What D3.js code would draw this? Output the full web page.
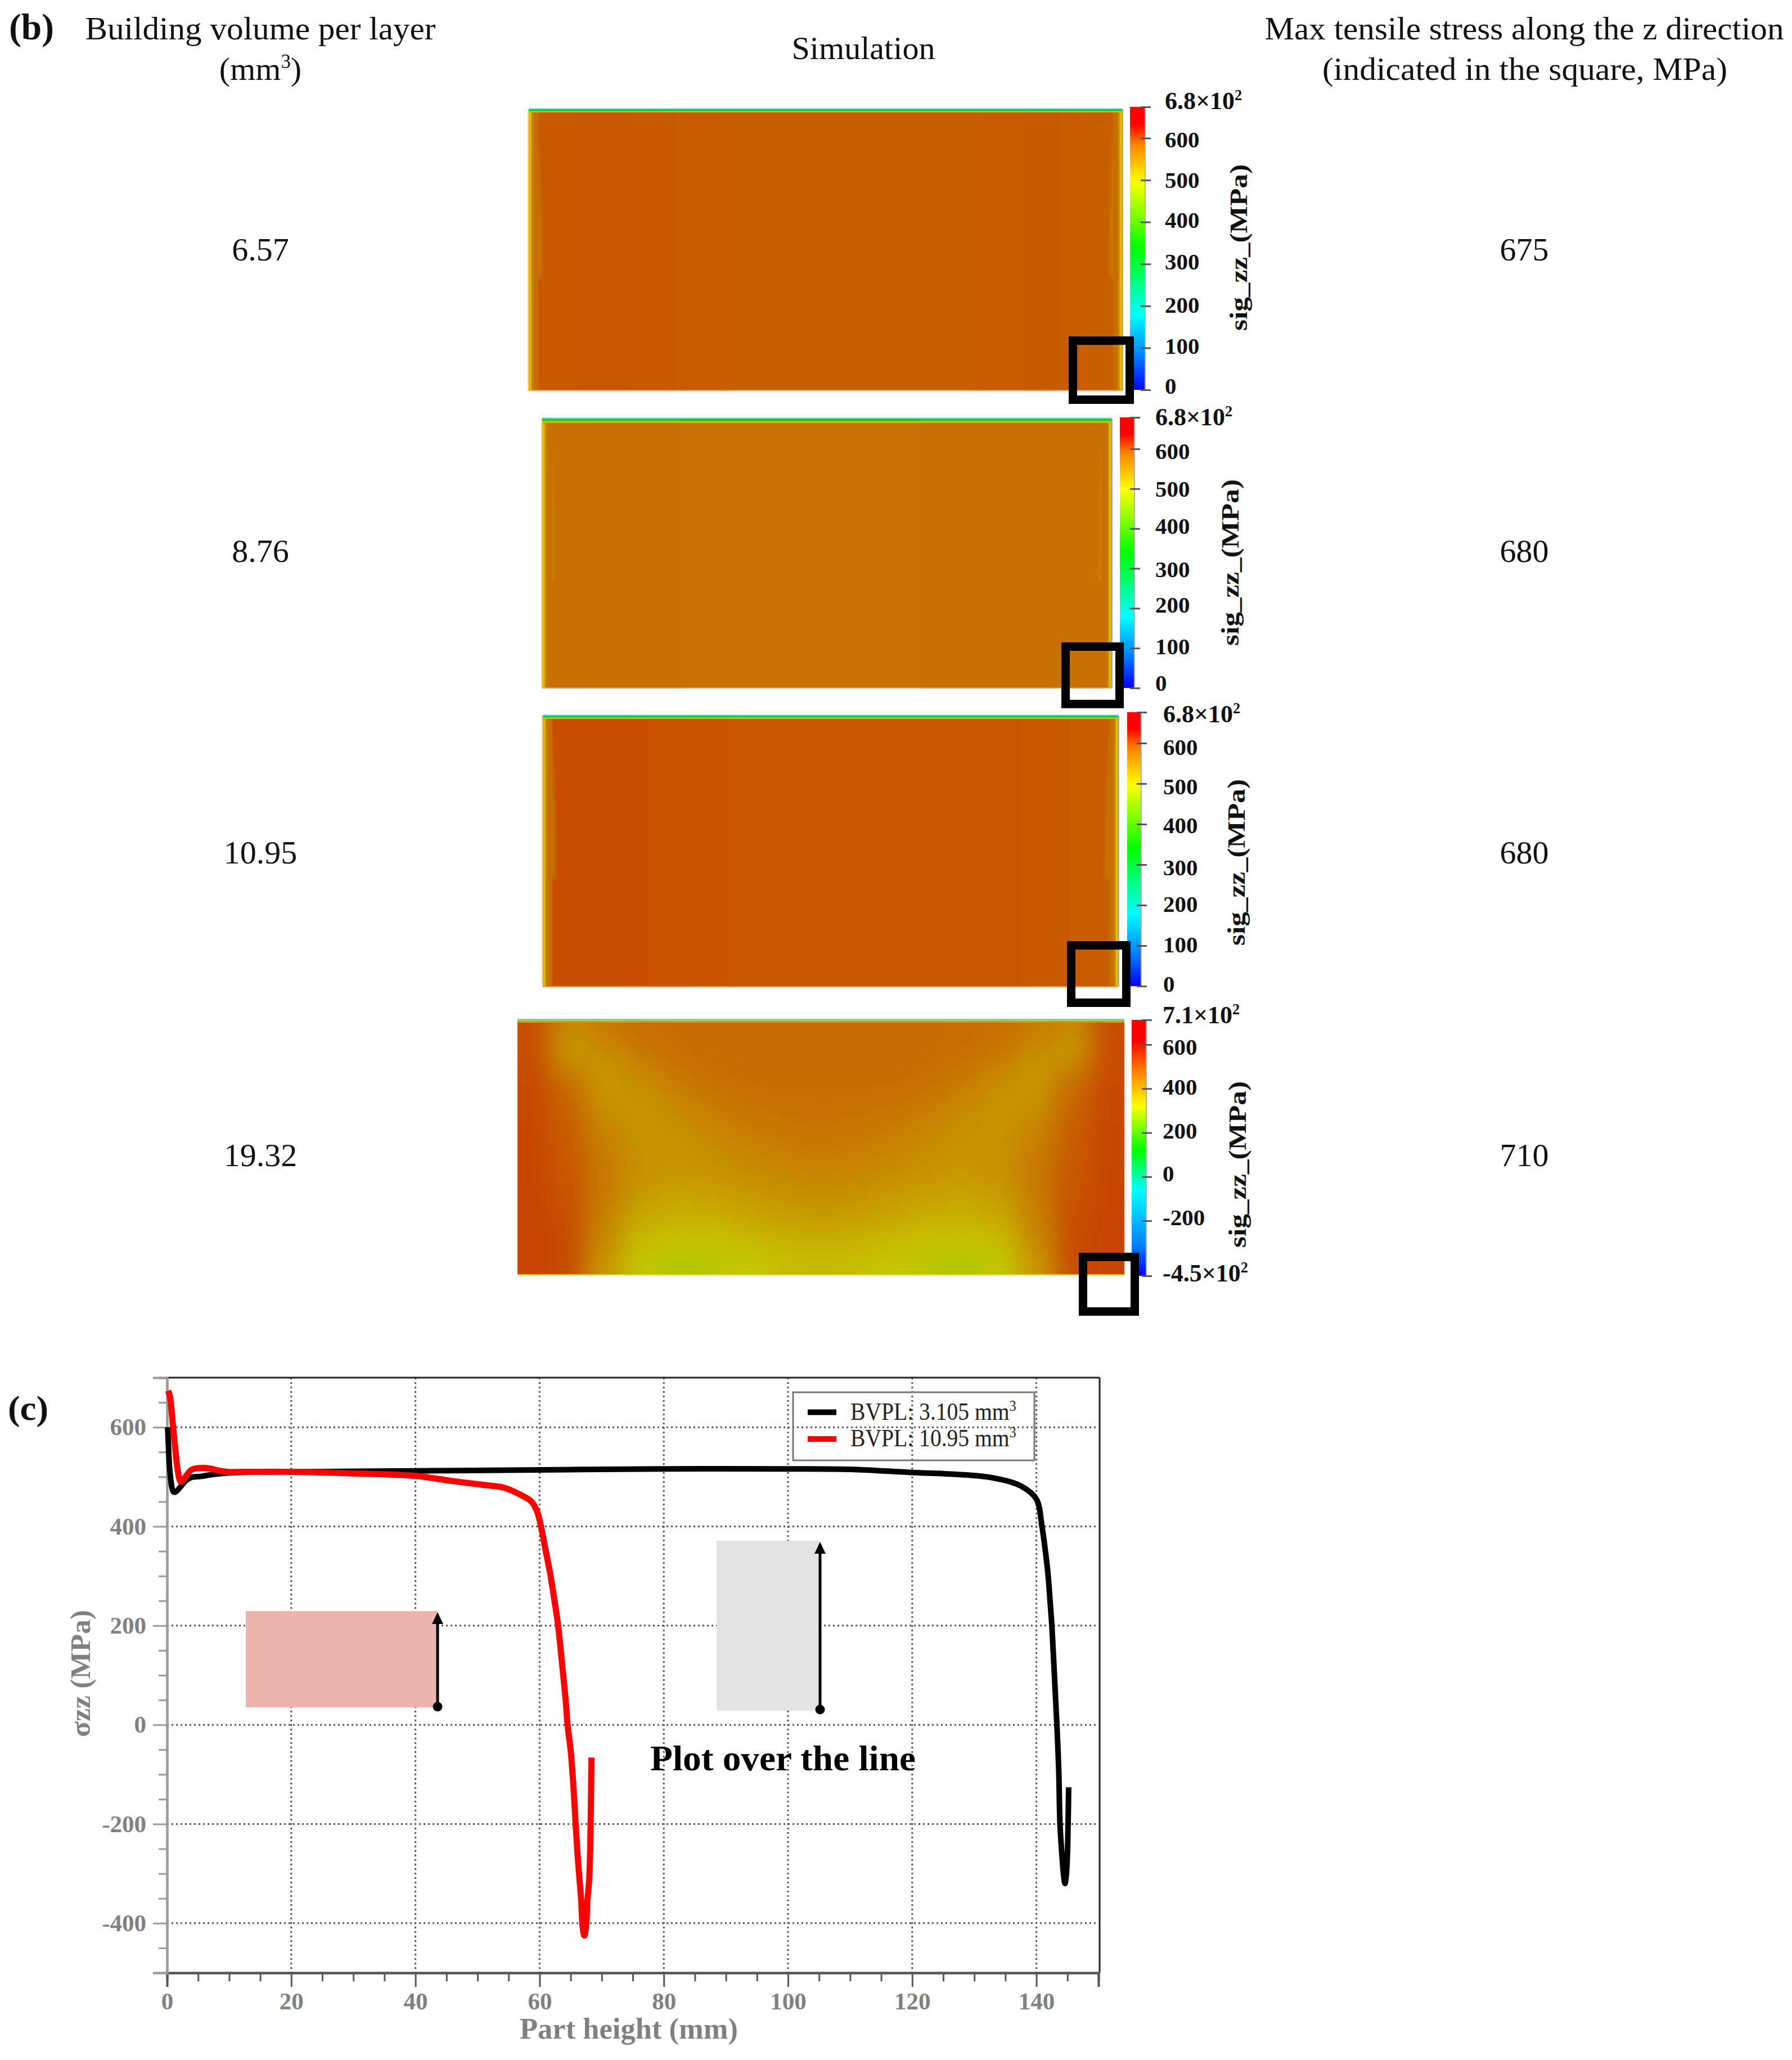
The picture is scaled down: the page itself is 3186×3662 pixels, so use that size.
<!DOCTYPE html>
<html><head><meta charset="utf-8">
<script src="https://cdn.jsdelivr.net/npm/d3@7"></script>
<style>html,body{margin:0;padding:0;background:#fff}svg{display:block}text{font-family:"Liberation Serif",serif}</style>
</head><body><svg id="c" width="3186" height="3662" viewBox="0 0 3186 3662"></svg>
<script>
// ---------- data ----------
const buildingVolumes=["6.57","8.76","10.95","19.32"];
const maxStress=["675","680","680","710"];
const barTicksA=[680,600,500,400,300,200,100,0];
const barTicksB=[710,600,400,200,0,-200,-450];
const barLabelsA=["6.8×10|2","600","500","400","300","200","100","0"];
const barLabelsB=["7.1×10|2","600","400","200","0","-200","-4.5×10|2"];
const rainbowA=[0,.12,.265,.5,.735,.87,.94,1];
const rainbowB=[0,.12,.335,.49,.665,.8,.92,1];
const rainbowColors=["#0000ff","#0080ff","#00ffff","#00ff00","#ffff00","#ff8000","#ff0000","#ff0000"];
// stress along the part width (single row) for the three uniform parts
const field1=[[597,598,597,595,594,594,594,594,594,595,596,594]];
const field2=[[582,581,580,579,579,579,579,579,580,580,581,580]];
const field3=[[601,601,600,599,598,598,598,598,598,598,597,595]];
// stress in the fourth part, rows top to bottom
const field4=[
[505,420,445,460,465,468,468,468,466,468,468,468,465,460,445,420,505],
[510,395,420,450,462,468,468,468,466,468,468,468,462,450,420,395,510],
[512,440,395,425,450,462,466,466,465,466,466,462,450,425,395,440,512],
[514,470,400,405,432,452,460,462,462,462,460,452,432,405,400,470,514],
[516,480,415,400,415,435,448,455,456,455,448,435,415,400,415,480,516],
[518,485,430,402,405,420,435,445,448,445,435,420,405,402,430,485,518],
[518,490,440,405,400,410,422,432,438,432,422,410,400,405,440,490,518],
[518,495,445,405,392,398,410,420,425,420,410,398,392,405,445,495,518],
[520,500,440,385,372,378,390,402,408,402,390,378,372,385,440,500,520],
[522,505,430,365,352,355,368,380,385,380,368,355,352,365,430,505,522],
[522,510,420,340,325,328,340,352,358,352,340,328,325,340,420,510,522],
[520,510,395,315,295,305,322,335,340,335,322,305,295,315,395,510,520]];
const edgeBands=[530,555,570,582];
const topBands=[270,470];
const wedgeU=[.004,.008,.012,.015,.017,.018];
const wedgeV=[.01,.05,.13,.25,.4,.6];
// stress along the part height
const blackX=[0.1,0.2,0.4,0.7,1.0,1.3,1.7,2.3,3.0,3.9,5.5,7,10,20,40,60,80,100,110,119.7,127.2,133,137.6,140,140.9,141.4,141.9,142.2,142.5,142.9,143.3,143.6,143.8,144.1,144.4,144.6,144.8,145,145.1,145.2];
const blackY=[600,570,520,485,470,469,473,482,492,499,501,504,508,510,512,514,516,516,515,509,505,498,481,455,400,355,300,250,198,100,0,-92,-200,-260,-305,-320,-305,-260,-200,-126];
const redX=[0.2,0.5,0.9,1.3,1.7,2.2,2.6,3.2,3.9,4.6,6,7.2,8.5,9.7,12,20,30,39.9,45.7,51.4,54.3,57.2,58.7,59.6,60.3,61,61.7,62.4,63,63.6,64.2,64.5,65,65.4,65.8,66.1,66.4,66.7,66.9,67.2,67.5,67.7,68,68.2,68.3,68.35];
const redY=[674,660,610,560,515,490,494,504,514,517,518,516,512,510,510,510,507,502,492,483,478,462,450,430,395,350,305,250,198,125,49,0,-52,-116,-200,-260,-308,-355,-403,-425,-403,-355,-308,-212,-116,-66];
const xMajor=[0,20,40,60,80,100,120,140];
const xMinor=[5,10,15,25,30,35,45,50,55,65,70,75,85,90,95,105,110,115,125,130,135,145,150];
const yMajor=[600,400,200,0,-200,-400];
const yMinor=[700,650,550,500,450,350,300,250,150,100,50,-50,-100,-150,-250,-300,-350,-450,-500];
const legendNames=["BVPL: 3.105 mm","BVPL: 10.95 mm"];

// ---------- layout ----------
const panels=[
 {box:[940,194,1995,694],bar:[2009,190,2035,693],dom:[0,600,680],rng:[693,245.6,190],ticks:barTicksA,labels:barLabelsA,stops:rainbowA,
  vmin:0,vmax:680,field:field1,lx:2071,dy:[3.5,16,14,10.5,10,12,10.5,7],sq:[1900,598,2016,718],yl:[2217,440],band:3},
 {box:[964,744,1976,1223],bar:[1991,742,2016,1223],dom:[0,600,680],rng:[1223,798,742],ticks:barTicksA,labels:barLabelsA,stops:rainbowA,
  vmin:0,vmax:680,field:field2,lx:2054,dy:[14,18,14,9,15,7.5,11,5],sq:[1887,1142,1998,1259],yl:[2202,1000],band:4},
 {box:[965,1272,1988,1754],bar:[2004,1266,2028,1753],dom:[0,600,680],rng:[1753,1321,1266],ticks:barTicksA,labels:barLabelsA,stops:rainbowA,
  vmin:0,vmax:680,field:field3,lx:2068,dy:[18,21,19,16,19,12,12,10],sq:[1897,1673,2010,1790],yl:[2213,1533],band:3},
 {box:[920,1811,1999,2267],bar:[2012,1813,2037,2268],dom:[-450,600,710],rng:[2268,1857,1813],ticks:barTicksB,labels:barLabelsB,stops:rainbowB,
  vmin:-450,vmax:710,field:field4,lx:2067,dy:[6,18,11,10,8,8,10],sq:[1918,2227,2025,2339],yl:[2215,2070],band:0}
];
const svg=d3.select("#c");
svg.append("rect").attr("width",3186).attr("height",3662).attr("fill","#fff");
const defs=svg.append("defs");
[["blurF",22],["blurS",3],["blurE",1]].forEach(([id,s])=>{
  defs.append("filter").attr("id",id).attr("filterUnits","userSpaceOnUse").attr("x",0).attr("y",0).attr("width",3186).attr("height",3662)
   .append("feGaussianBlur").attr("stdDeviation",s);
});
const SHADE=0.78;
function shade(c,k){const r=d3.rgb(c);return d3.rgb(r.r*k,r.g*k,r.b*k).formatHex();}

function text(g,s,x,y,o={}){
  const t=g.append("text").attr("x",x).attr("y",y).attr("font-size",o.size||58).attr("fill",o.fill||"#111")
    .attr("text-anchor",o.anchor||"middle").attr("font-weight",o.weight||"normal");
  if(o.rotate) t.attr("transform",`rotate(-90 ${x} ${y})`);
  if(o.len) t.attr("textLength",o.len).attr("lengthAdjust","spacingAndGlyphs");
  t.text(s);return t;
}
function supText(g,base,sup,tail,x,y,o){
  const t=g.append("text").attr("transform",`translate(${x},${y}) scale(${o.sx||1},1)`).attr("font-size",o.size).attr("fill",o.fill||"#111")
    .attr("text-anchor",o.anchor||"start").attr("font-weight",o.weight||"normal");
  t.append("tspan").text(base);
  t.append("tspan").attr("dy",-o.size*.36).attr("font-size",o.size*.6).text(sup);
  if(tail) t.append("tspan").attr("dy",o.size*.36).text(tail);
  return t;
}

// ---------- headers ----------
const head=svg.append("g");
text(head,"(b)",16,70,{size:66,weight:"bold",anchor:"start",len:80});
text(head,"Building volume per layer",463,70,{size:58,len:623});
supText(head,"(mm","3",")",463,142,{size:58,anchor:"middle"});
text(head,"Simulation",1535,105,{size:58,len:255});
text(head,"Max tensile stress along the z direction",2710,70,{size:58,len:923});
text(head,"(indicated in the square, MPa)",2711,142,{size:58,len:720});
text(head,"(c)",14,2524,{size:62,weight:"bold",anchor:"start",len:72});
const rowBase=[463,999,1535,2073];
buildingVolumes.forEach((v,i)=>text(head,v,463,rowBase[i],{size:58}));
maxStress.forEach((v,i)=>text(head,v,2710,rowBase[i],{size:58}));

// ---------- simulation panels ----------
panels.forEach((p,i)=>{
  const [x0,y0,x1,y1]=p.box,g=svg.append("g");
  const cid="clip"+i;
  defs.append("clipPath").attr("id",cid).append("rect").attr("x",x0).attr("y",y0).attr("width",x1-x0).attr("height",y1-y0);
  const valueColor=d3.scaleLinear().domain(p.stops.map(t=>p.vmin+t*(p.vmax-p.vmin))).range(rainbowColors).interpolate(d3.interpolateRgb);
  const nr=p.field.length,nc=p.field[0].length;
  const cols=d3.scaleBand().domain(d3.range(nc)).range([x0,x1]);
  const rows=d3.scaleBand().domain(d3.range(nr)).range([y0,y1]);
  const clip=g.append("g").attr("clip-path",`url(#${cid})`);
  const cells=p.field.flatMap((r,ri)=>r.map((v,ci)=>({ri,ci,v})));
  const pad=90;
  clip.append("g").attr("filter","url(#blurF)").selectAll("rect").data(cells).join("rect")
    .attr("x",d=>cols(d.ci)-(d.ci===0?pad:0)-.5)
    .attr("y",d=>rows(d.ri)-(d.ri===0?pad:0)-.5)
    .attr("width",d=>cols.bandwidth()+(d.ci===0?pad:0)+(d.ci===nc-1?pad:0)+1)
    .attr("height",d=>rows.bandwidth()+(d.ri===0?pad:0)+(d.ri===nr-1?pad:0)+1)
    .attr("fill",d=>shade(valueColor(d.v),SHADE));
  if(i<3){
    const u=d3.scaleLinear().domain([0,1]).range([x0,x1]);
    const v=d3.scaleLinear().domain([0,1]).range([y0,y1]);
    const wedgeColor=shade(valueColor(p.vmin+.79*(p.vmax-p.vmin)),SHADE);
    [wedgeU,wedgeU.map(a=>1-a)].forEach(us=>{
      clip.append("path").attr("filter","url(#blurS)")
       .attr("d",d3.line().x((d,k)=>u(us[k])).y((d,k)=>v(wedgeV[k])).curve(d3.curveCatmullRom)(us))
       .attr("fill","none").attr("stroke",wedgeColor).attr("stroke-width",6).attr("opacity",.6);
    });
    const bw=[4,2,3,8];
    let off=0;
    const eg=clip.append("g").attr("filter","url(#blurE)");
    edgeBands.forEach((val,k)=>{
      const c=shade(valueColor(val),k===0?.92:SHADE);
      eg.append("rect").attr("x",x0+off).attr("y",y0).attr("width",bw[k]).attr("height",y1-y0).attr("fill",c);
      eg.append("rect").attr("x",x1-off-bw[k]).attr("y",y0).attr("width",bw[k]).attr("height",y1-y0).attr("fill",c);
      off+=bw[k];
    });
    topBands.forEach((val,k)=>{
      clip.append("rect").attr("x",x0).attr("y",y0+k*p.band).attr("width",x1-x0).attr("height",p.band).attr("fill",shade(valueColor(val),k?.8:.78));
    });
    g.append("rect").attr("x",x0).attr("y",y0-2).attr("width",x1-x0).attr("height",2).attr("fill","#bcd0f0");
    g.append("rect").attr("x",x1).attr("y",y0).attr("width",2).attr("height",y1-y0).attr("fill","#a8a8a8");
    g.append("rect").attr("x",x0-2).attr("y",y0).attr("width",2).attr("height",y1-y0).attr("fill","#f2dca0");
    g.append("rect").attr("x",x0).attr("y",y1-1).attr("width",x1-x0).attr("height",2).attr("fill","#e8a050");
  } else {
    clip.append("rect").attr("x",x0).attr("y",y0).attr("width",x1-x0).attr("height",4).attr("fill","#90d080");
    clip.append("rect").attr("x",x0).attr("y",y0+4).attr("width",x1-x0).attr("height",3).attr("fill","#e09010");
    clip.append("rect").attr("x",x0).attr("y",y1-2).attr("width",x1-x0).attr("height",2).attr("fill","#dcd820");
  }
  // colour bar
  const [bx0,by0,bx1,by1]=p.bar;
  const gid="grad"+i;
  const lg=defs.append("linearGradient").attr("id",gid).attr("x1",0).attr("y1",1).attr("x2",0).attr("y2",0);
  p.stops.forEach((t,k)=>lg.append("stop").attr("offset",t).attr("stop-color",rainbowColors[k]));
  g.append("rect").attr("x",bx0).attr("y",by0).attr("width",bx1-bx0).attr("height",by1-by0).attr("fill",`url(#${gid})`);
  g.append("rect").attr("x",bx1).attr("y",by0).attr("width",2).attr("height",by1-by0).attr("fill","#b0b0b0");
  const bs=d3.scaleLinear().domain(p.dom).range(p.rng);
  const ax=g.append("g").attr("transform",`translate(${bx1-7},0)`).call(d3.axisRight(bs).tickValues(p.ticks).tickSize(18).tickFormat(""));
  ax.select(".domain").remove();
  ax.selectAll("line").attr("stroke","#555").attr("stroke-width",3);
  p.ticks.forEach((tv,k)=>{
    const lab=p.labels[k],yy=bs(tv)+p.dy[k];
    if(lab.includes("|")){const [a,b]=lab.split("|");
      supText(g,a,b,null,p.lx,yy,{size:44,weight:"bold"});
    } else text(g,lab,p.lx,yy,{size:41,weight:"bold",anchor:"start"});
  });
  text(g,"sig_zz_(MPa)",p.yl[0],p.yl[1],{size:44,weight:"bold",rotate:true,len:296});
  // highlight square
  const [sx0,sy0,sx1,sy1]=p.sq,sw=15;
  g.append("rect").attr("x",sx0+sw/2).attr("y",sy0+sw/2).attr("width",sx1-sx0-sw).attr("height",sy1-sy0-sw)
    .attr("fill","none").attr("stroke","#000").attr("stroke-width",sw);
});

// ---------- stress line plot ----------
const X=d3.scaleLinear().domain([0,150]).range([297,1953]);
const Y=d3.scaleLinear().domain([-500,700]).range([3507,2449]);
const plot=svg.append("g");
const GRAY="#808080";
const dot={stroke:"#555","stroke-width":3,"stroke-dasharray":"3 5"};
const gv=plot.append("g").selectAll("line").data(xMajor.slice(1)).join("line")
  .attr("x1",d=>X(d)).attr("x2",d=>X(d)).attr("y1",Y(700)).attr("y2",Y(-500));
const gh=plot.append("g").selectAll("line").data(yMajor).join("line")
  .attr("x1",X(0)).attr("x2",X(150)).attr("y1",d=>Y(d)).attr("y2",d=>Y(d));
[gv,gh].forEach(s=>Object.entries(dot).forEach(([k,v])=>s.attr(k,v)));
// frame
plot.append("line").attr("x1",X(0)).attr("x2",1955).attr("y1",Y(700)).attr("y2",Y(700)).attr("stroke","#222").attr("stroke-width",3);
plot.append("line").attr("x1",1955).attr("x2",1955).attr("y1",Y(700)).attr("y2",Y(-500)).attr("stroke","#222").attr("stroke-width",3);
// minor ticks then major ticks via d3 axes
const axX=d3.axisBottom(X).tickValues(xMinor).tickSize(15).tickFormat("");
const axXM=d3.axisBottom(X).tickValues(xMajor).tickSize(25).tickFormat(d=>String(d)).tickPadding(9);
const axY=d3.axisLeft(Y).tickValues(yMinor).tickSize(15).tickFormat("");
const axYM=d3.axisLeft(Y).tickValues(yMajor).tickSize(25).tickFormat(d=>String(d)).tickPadding(12);
const styleAxis=(g,col,w)=>{g.selectAll("line").attr("stroke",col).attr("stroke-width",w);
  g.select(".domain").attr("stroke",col).attr("stroke-width",w+1);
  g.selectAll("text").attr("font-size",43).attr("font-weight","bold").attr("fill",GRAY).attr("font-family","Liberation Serif");};
plot.append("g").attr("transform",`translate(0,${Y(-500)})`).call(axX).call(styleAxis,"#555",3);
plot.append("g").attr("transform",`translate(0,${Y(-500)})`).call(axXM).call(styleAxis,"#555",3);
plot.append("g").attr("transform",`translate(${X(0)},0)`).call(axY).call(styleAxis,"#999",3);
plot.append("g").attr("transform",`translate(${X(0)},0)`).call(axYM).call(styleAxis,"#999",3);
// part sketches
plot.append("rect").attr("x",437).attr("y",2864).attr("width",341).attr("height",171).attr("fill","#ecb5b0");
plot.append("rect").attr("x",1274).attr("y",2739).attr("width",184).attr("height",302).attr("fill","#e3e3e3");
[[778,3034,2866],[1458,3039,2741]].forEach(([x,yb,yt])=>{
  plot.append("line").attr("x1",x).attr("x2",x).attr("y1",yb).attr("y2",yt+18).attr("stroke","#000").attr("stroke-width",5);
  plot.append("circle").attr("cx",x).attr("cy",yb).attr("r",8.5).attr("fill","#000");
  plot.append("path").attr("d",`M${x},${yt}L${x+10},${yt+21}L${x-10},${yt+21}Z`).attr("fill","#000");
});
// curves
const pts=(xs,ys)=>xs.map((x,i)=>[x,ys[i]]);
const line=d3.line().x(d=>X(d[0])).y(d=>Y(d[1])).curve(d3.curveCatmullRom.alpha(.5));
plot.append("path").attr("d",line(pts(blackX,blackY))).attr("fill","none").attr("stroke","#000").attr("stroke-width",10).attr("stroke-linejoin","round");
plot.append("path").attr("d",line(pts(redX,redY))).attr("fill","none").attr("stroke","#ff0000").attr("stroke-width",11).attr("stroke-linejoin","round");
// legend
const lg=plot.append("g");
lg.append("rect").attr("x",1410).attr("y",2475).attr("width",429).attr("height",121).attr("fill","none").attr("stroke","#777").attr("stroke-width",3);
legendNames.forEach((n,i)=>{
  const yy=[2510.5,2558][i];
  lg.append("rect").attr("x",1436).attr("y",yy-5).attr("width",51).attr("height",10).attr("fill",["#000","#ff0000"][i]);
  supText(lg,n,"3",null,1512,yy+13,{size:44,fill:"#222",sx:.9});
});
text(plot,"Plot over the line",1392,3147,{size:64,weight:"bold",fill:"#000",len:472});
text(plot,"Part height (mm)",1118,3624,{size:52,weight:"bold",fill:GRAY,len:388});
text(plot,"σzz (MPa)",160,2975,{size:50,weight:"bold",fill:GRAY,rotate:true,len:226});
</script></body></html>
